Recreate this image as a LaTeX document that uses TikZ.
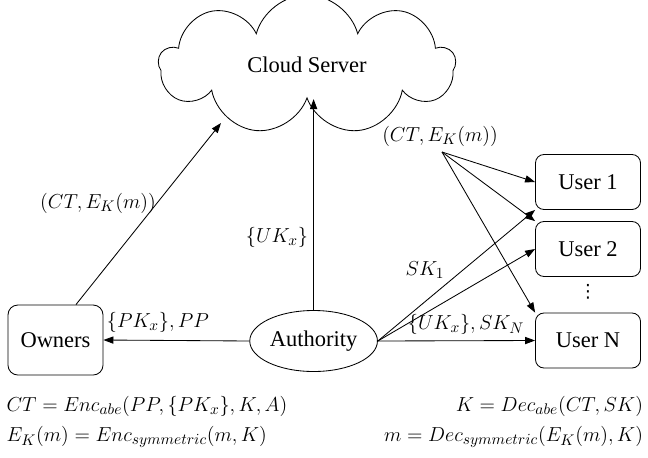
\documentclass[tikz,border=0pt]{standalone}
\usepackage{amsmath,amssymb}
\usepackage{fontspec}
\setmainfont{Liberation Serif}
\newfontfamily\symfont{DejaVu Sans}
\usepackage{tikz}
\usetikzlibrary{arrows.meta,positioning,shapes.geometric,shapes.symbols}

\begin{document}
\begin{tikzpicture}[
    font=\rmfamily\fontsize{16}{19}\selectfont,
    >={Triangle[length=2.5mm, width=1.8mm]},
    line width=0.6pt,
    party/.style={draw, rounded corners=7pt, minimum width=2.375cm,
                  minimum height=1.75cm, align=center},
    user/.style={draw, rounded corners=6pt, minimum width=2.625cm,
                 minimum height=1.375cm, align=center},
    lbl/.style={font=\fontsize{15.6}{18}\selectfont, inner sep=1pt},
    edge/.style={->}
]
\useasboundingbox (0,0) rectangle (16.2,-11.425);

% --- Cloud, owners, authority ---
\node[cloud, draw, cloud puffs=9, aspect=2.2, minimum width=7.4cm,
      minimum height=3.5cm] (cloud) at (7.675,-1.62) {Cloud Server};
\node[party] (owners) at (1.3875,-8.5) {Owners};
\node[ellipse, draw, minimum width=2.825cm, minimum height=1.525cm,
      inner sep=1pt] (auth) at (7.84,-8.525) {Authority};

% --- Users ---
\node[user] (user1) at (14.7,-4.55)   {User 1};
\node[user] (user2) at (14.7,-6.225)  {User 2};
\node[inner sep=0pt, font=\symfont\fontsize{13}{13}\selectfont]
      (dots) at (14.7,-7.3) {⋮};
\node[user] (userN) at (14.7,-8.5125) {User N};

% Points where the fan-out and the upload meet
\coordinate (fan)     at (11.05,-3.8);
\coordinate (cloudin) at (5.525,-3.075);

% Connectors
\draw[edge] (owners.60) -- (cloudin);
\draw[edge] (auth.north) -- (auth.north |- cloud.south);
\draw[edge] (auth.west) -- (owners.east);
\draw[edge] (auth.east) -- (user1.south west);
\draw[edge] (auth.east) -- (user2.west);
\draw[edge] (auth.east) -- (userN.west);
\draw[edge] (fan) -- (user1.west);
\draw[edge] (fan) -- (user2.north west);
\draw[edge] (fan) -- (userN.north west);

% Labels on the connectors
\node[lbl] (lupload) at (2.45,-5.075)  {$(CT,E_K(m))$};
\node[lbl] (luk)     at (6.925,-5.925) {$\{UK_x\}$};
\node[lbl] (lpk)     at (3.95,-8.05)   {$\{PK_x\},PP$};
\node[lbl] (lfan)    at (11.0,-3.4)    {$(CT,E_K(m))$};
\node[lbl] (lsk)     at (10.625,-6.75) {$SK_1$};
\node[lbl] (lukn)    at (11.65,-8.12)  {$\{UK_x\},SK_N$};

% --- Formulas below the diagram ---
\node[lbl, anchor=west] (encabe) at (0.12,-10.15)  {$CT=Enc_{abe}(PP,\{PK_x\},K,A)$};
\node[lbl, anchor=west] (encsym) at (0.12,-10.925) {$E_K(m)=Enc_{symmetric}(m,K)$};
\node[lbl, anchor=east] (decabe) at (16.12,-10.15)  {$K=Dec_{abe}(CT,SK)$};
\node[lbl, anchor=east] (decsym) at (16.12,-10.925) {$m=Dec_{symmetric}(E_K(m),K)$};

\end{tikzpicture}
\end{document}
